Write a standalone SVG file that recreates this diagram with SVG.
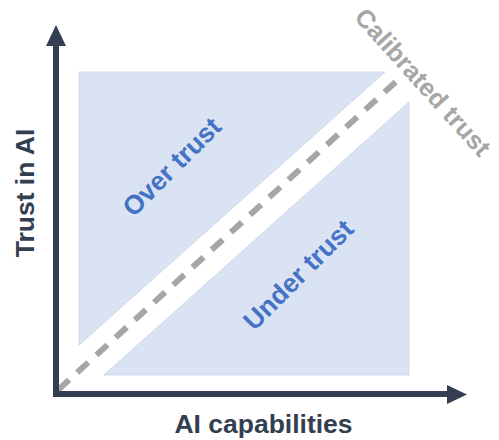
<svg xmlns="http://www.w3.org/2000/svg" width="499" height="440" viewBox="0 0 499 440">
  <defs>
    <style>
      .lbl { font-family: "Liberation Sans", Arial, sans-serif; font-weight: bold; font-size: 26.5px; text-anchor: middle; }
      .axis-lbl { fill: #333f50; }
      .region-lbl { fill: #4472c4; }
      .calib-lbl { fill: #a6a6a6; font-size: 25.5px; }
      .region { fill: #dae3f3; stroke: #cfd9ea; stroke-width: 1; }
      .axis { fill: none; stroke: #333f50; stroke-width: 6; stroke-linejoin: miter; }
      .head { fill: #333f50; }
      .calib { stroke: #a6a6a6; stroke-width: 6; stroke-dasharray: 15 11; fill: none; }
    </style>
  </defs>
  <rect width="499" height="440" fill="#ffffff"/>

  <g id="over-trust-region">
    <polygon class="region" points="79,72 385,72 79,345"/>
    <text class="lbl region-lbl" transform="translate(171.5,166.5) rotate(-45)" x="0" y="9.5">Over trust</text>
  </g>

  <g id="under-trust-region">
    <polygon class="region" points="104,375 409,375 409,102"/>
    <text class="lbl region-lbl" transform="translate(298,274.5) rotate(-45)" x="0" y="9.5">Under trust</text>
  </g>

  <g id="calibrated-trust">
    <line class="calib" x1="58" y1="390" x2="400" y2="78"/>
    <text class="lbl calib-lbl" transform="translate(423,82) rotate(48)" x="0" y="9">Calibrated trust</text>
  </g>

  <g id="axes">
    <polyline class="axis" points="56,44 56,394 450,394"/>
    <polygon class="head" points="56,25 66,46 46,46"/>
    <polygon class="head" points="467,394.5 447,385 447,404"/>
  </g>

  <g id="y-axis-label">
    <text class="lbl axis-lbl" transform="translate(24,193) rotate(-90)" x="0" y="9.5">Trust in AI</text>
  </g>

  <g id="x-axis-label">
    <text class="lbl axis-lbl" x="263.5" y="433">AI capabilities</text>
  </g>
</svg>
